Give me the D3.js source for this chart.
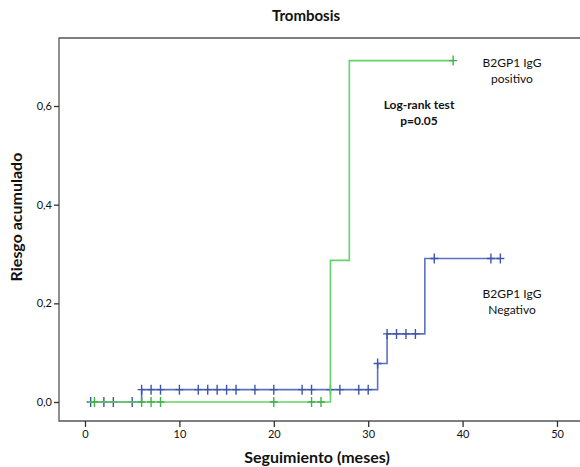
<!DOCTYPE html>
<html>
<head>
<meta charset="utf-8">
<script src="https://cdn.jsdelivr.net/npm/d3@7"></script>
<style>
  html, body { margin: 0; padding: 0; background: #fff; }
  svg { display: block; }
  text { font-family: Lato, "Open Sans", sans-serif; fill: #111; }
</style>
</head>
<body>
<svg id="chart" width="580" height="467"></svg>
<script>
// ---- data ----
const xTicks = [0, 10, 20, 30, 40, 50];
const yTicks = [0.0, 0.2, 0.4, 0.6];
const yTickLabels = ["0,0", "0,2", "0,4", "0,6"];

// B2GP1 IgG positivo (step curve)
const posTimes = [0.3, 26, 28, 39];
const posRisk  = [0, 0.287, 0.692, 0.692];
const posCensor = [1, 6, 7, 8, 20, 24, 25, 39];

// B2GP1 IgG negativo (step curve)
const negTimes = [0.3, 6, 31, 32, 36, 44];
const negRisk  = [0, 0.025, 0.078, 0.138, 0.291, 0.291];
const negCensor = [0.6, 2, 3, 5, 6, 7, 8, 10, 12, 13, 14, 15, 16, 18, 20, 23, 24, 26, 27, 29, 30, 31, 32, 33, 34, 35, 37, 43, 44];

// ---- layout ----
const svg = d3.select("#chart");
const frame = {left: 59, top: 38, right: 580, bottom: 421};
const x = d3.scaleLinear().domain([0, 50]).range([85, 557]);
const y = d3.scaleLinear().domain([0, 0.6]).range([402, 106]);

// frame
svg.append("path")
  .attr("d", `M${frame.right},${frame.top}H${frame.left}V${frame.bottom}H${frame.right}`)
  .attr("fill", "none").attr("stroke", "#555").attr("stroke-width", 1.3);

// axes
const xAxis = d3.axisBottom(x).tickValues(xTicks).tickSize(6).tickPadding(3);
const gx = svg.append("g").attr("transform", `translate(0,${frame.bottom})`).call(xAxis);
gx.select(".domain").remove();
gx.selectAll("line").attr("stroke", "#333").attr("stroke-width", 1.3);
gx.selectAll("text").style("font-size", "11px").attr("fill", "#222");

const yAxis = d3.axisLeft(y).tickValues(yTicks).tickFormat((d, i) => yTickLabels[i]).tickSize(5).tickPadding(2);
const gy = svg.append("g").attr("transform", `translate(${frame.left},0)`).call(yAxis);
gy.select(".domain").remove();
gy.selectAll("line").attr("stroke", "#333").attr("stroke-width", 1.3);
gy.selectAll("text").style("font-size", "11px").attr("fill", "#222");

// curves
function drawSeries(times, risk, censor, lineColor, markColor) {
  const pts = times.map((t, i) => [t, risk[i]]);
  const line = d3.line().x(d => x(d[0])).y(d => y(d[1])).curve(d3.curveStepAfter);
  svg.append("path").attr("d", line(pts))
    .attr("fill", "none").attr("stroke", lineColor).attr("stroke-width", 1.6);
  const valAt = t => {
    const i = d3.bisectRight(times, t) - 1;
    return risk[Math.max(0, i)];
  };
  const g = svg.append("g");
  censor.forEach(t => {
    const cx = x(t), cy = y(valAt(t));
    g.append("path")
      .attr("d", `M${cx - 4},${cy}H${cx + 4}M${cx},${cy - 5}V${cy + 5}`)
      .attr("stroke", markColor).attr("stroke-width", 1.4).attr("fill", "none");
  });
}
drawSeries(negTimes, negRisk, negCensor, "#5b72c2", "#3f56a8");
drawSeries(posTimes, posRisk, posCensor, "#66d166", "#3fb24a");

// texts
svg.append("text").attr("x", 306).attr("y", 21).attr("text-anchor", "middle")
  .style("font-size", "15px").style("font-weight", "bold").text("Trombosis");

svg.append("text").attr("x", 317).attr("y", 463).attr("text-anchor", "middle")
  .style("font-size", "16px").style("font-weight", "bold").text("Seguimiento (meses)");

svg.append("text").attr("transform", "translate(22,217) rotate(-90)").attr("text-anchor", "middle")
  .style("font-size", "16px").style("font-weight", "bold").text("Riesgo acumulado");

const lbl = (lines, cx, cy, bold) => {
  lines.forEach((s, i) => svg.append("text")
    .attr("x", cx).attr("y", cy + i * 16).attr("text-anchor", "middle")
    .style("font-size", "12px").style("font-weight", bold ? "bold" : "normal").text(s));
};
lbl(["B2GP1 IgG", "positivo"], 512, 67, false);
lbl(["Log-rank test", "p=0.05"], 419, 109, true);
lbl(["B2GP1 IgG", "Negativo"], 512, 298, false);
</script>
</body>
</html>
